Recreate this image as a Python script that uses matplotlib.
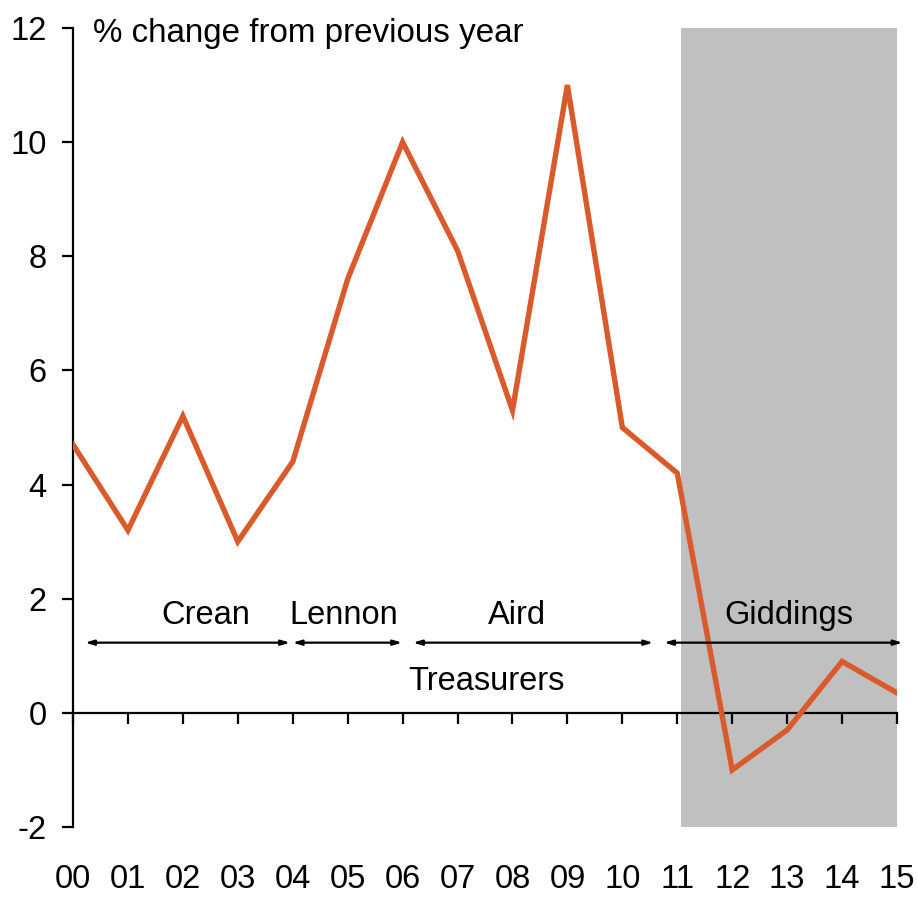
import matplotlib
matplotlib.use("Agg")
import matplotlib.pyplot as plt
from matplotlib.transforms import blended_transform_factory

plt.rcParams['font.family'] = ['Liberation Sans', 'DejaVu Sans']

years = ["00", "01", "02", "03", "04", "05", "06", "07", "08", "09",
         "10", "11", "12", "13", "14", "15"]
pct_change = [4.7, 3.2, 5.2, 3.0, 4.4, 7.6, 10.0, 8.1, 5.3, 11.0,
              5.0, 4.2, -1.0, -0.3, 0.9, 0.35]
y_ticks = [-2, 0, 2, 4, 6, 8, 10, 12]

# Treasurer terms in year-index units: arrow start/end and label centre
treasurer_names = ["Crean", "Lennon", "Aird", "Giddings"]
term_start = [0.22, 4.0, 6.19, 10.76]
term_end = [3.95, 5.99, 10.56, 15.1]
name_pos = [2.41, 4.93, 8.08, 13.04]
shade_start, shade_end = 11.07, 15.0

W, H = 917, 897
fig = plt.figure(figsize=(W / 100, H / 100), dpi=100)
ax = fig.add_axes([73 / W, (H - 827) / H, (897 - 73) / W, (827 - 28) / H])

x = list(range(len(years)))
ax.axvspan(shade_start, shade_end, ymin=0, ymax=1, color="#C0C0C0", lw=0, zorder=0)
ax.plot(x, pct_change, color="#D95B2B", lw=3.9, zorder=3, solid_joinstyle="miter")

ax.set_xlim(0, 15)
ax.set_ylim(-2, 12)

for s in ["top", "right"]:
    ax.spines[s].set_visible(False)
ax.spines["bottom"].set_position(("data", 0))
ax.spines["bottom"].set_linewidth(1.6)
ax.spines["left"].set_linewidth(1.6)
ax.spines["bottom"].set_zorder(2)

ax.set_yticks(y_ticks)
ax.set_yticklabels([str(v) for v in y_ticks])
ax.tick_params(axis="y", direction="out", length=8, width=1.6, pad=11, labelsize=23.5)
ax.set_xticks(x)
ax.set_xticklabels([])
ax.tick_params(axis="x", direction="out", length=8, width=1.6)

# Year labels sit along the bottom edge of the figure, below the plot area
trans = blended_transform_factory(ax.transData, fig.transFigure)
for i, lab in enumerate(years):
    ax.text(i, 2 / H, lab, transform=trans, ha="center", va="bottom",
            fontsize=23.5, clip_on=False)

# Treasurer arrows and names
for name, x0, x1, xc in zip(treasurer_names, term_start, term_end, name_pos):
    ax.annotate("", xy=(x1, 1.23), xytext=(x0, 1.23),
                arrowprops=dict(arrowstyle="<|-|>,head_length=0.5,head_width=0.15",
                                color="black", lw=1.6, shrinkA=0, shrinkB=0),
                annotation_clip=False)
    ax.text(xc, 1.56, name, ha="center", va="baseline", fontsize=23.5)

ax.text(7.52, 0.40, "Treasurers", ha="center", va="baseline", fontsize=23.5)
ax.text(0.37, 11.75, "% change from previous year", ha="left", va="baseline",
        fontsize=23.9)

fig.savefig("out.png", dpi=100)
